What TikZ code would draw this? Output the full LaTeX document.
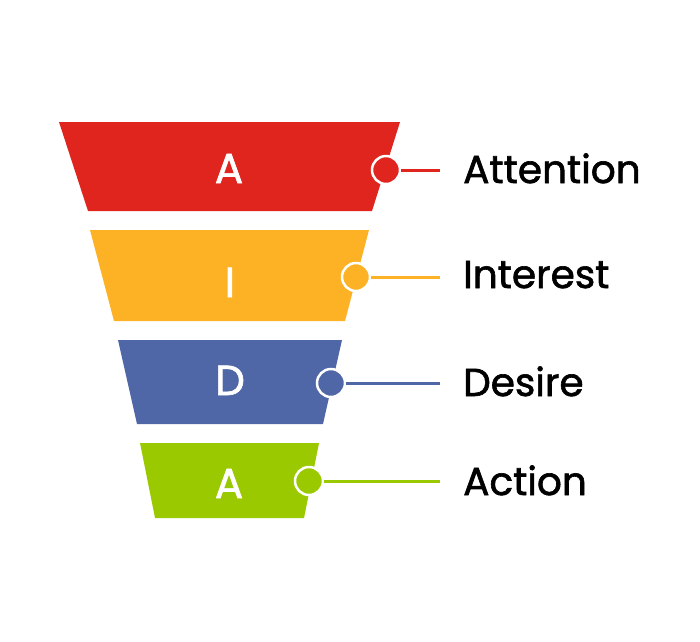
\documentclass[tikz,border=0pt]{standalone}
\usepackage{fontspec}
\setmainfont{Poppins}[FakeBold=1.6,BoldFont=Poppins]
\definecolor{cred}{HTML}{E0251F}
\definecolor{cyel}{HTML}{FDB125}
\definecolor{cblu}{HTML}{4F67A6}
\definecolor{cgrn}{HTML}{9BC900}
\begin{document}
\begin{tikzpicture}[x=1pt,y=-1pt,
  dotc/.style={circle,draw=white,line width=2.5pt,minimum size=28pt,inner sep=0pt},
  link/.style={line width=3pt},
  letter/.style={text=white,font=\fontsize{42}{42}\selectfont\bfseries,anchor=base,inner sep=0pt},
  label/.style={text=black,font=\fontsize{39}{39}\selectfont\bfseries,anchor=base west,inner sep=0pt}]
\useasboundingbox (0,0) rectangle (700,641);
% bands
\fill[cred] (59,122) -- (400,122) -- (372,211) -- (88,211) -- cycle;
\fill[cyel] (90,230) -- (369,230) -- (345,321) -- (114,321) -- cycle;
\fill[cblu] (118,340) -- (342,340) -- (323,424) -- (137,424) -- cycle;
\fill[cgrn] (140,443) -- (319,443) -- (304,518) -- (155,518) -- cycle;
% letters
\node[letter] (l1) at (229,183) {A};
\node[letter] (l2) at (230,297) {I};
\node[letter] (l3) at (230,395) {D};
\node[letter] (l4) at (229,498) {A};
% connector ends
\coordinate (e1) at (440,170);
\coordinate (e2) at (440,277);
\coordinate (e3) at (440,383);
\coordinate (e4) at (440,481);
% dots
\node[dotc,fill=cred] (d1) at (386,170) {};
\node[dotc,fill=cyel] (d2) at (356,277) {};
\node[dotc,fill=cblu] (d3) at (331,383) {};
\node[dotc,fill=cgrn] (d4) at (309,481) {};
\draw[link,cred] (d1.east) -- (e1);
\draw[link,cyel] (d2.east) -- (e2);
\draw[link,cblu] (d3.east) -- (e3);
\draw[link,cgrn] (d4.east) -- (e4);
% labels
\node[label] (t1) at (463,183) {Attention};
\node[label] (t2) at (463,288) {Interest};
\node[label] (t3) at (463,396) {Desire};
\node[label] (t4) at (463,495) {Action};
\end{tikzpicture}
\end{document}
